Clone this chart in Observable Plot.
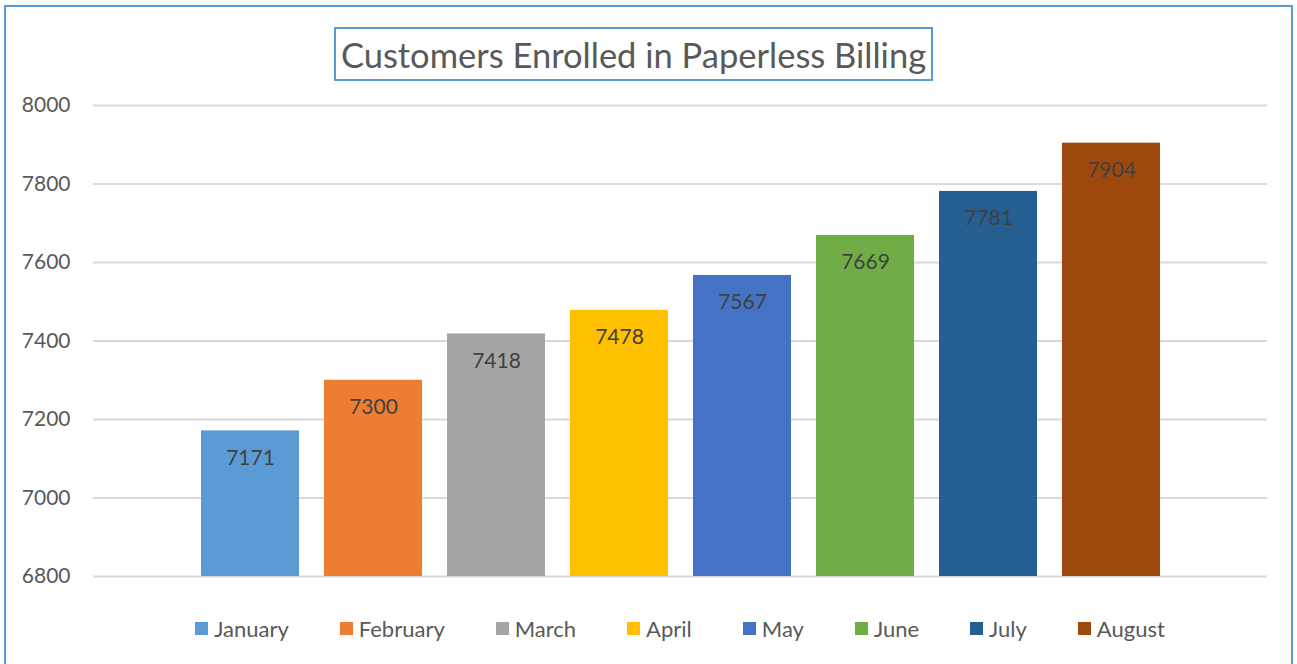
<!DOCTYPE html>
<html>
<head>
<meta charset="utf-8">
<script src="https://cdn.jsdelivr.net/npm/d3@7"></script>
<script src="https://cdn.jsdelivr.net/npm/@observablehq/plot@0.6"></script>
<style>
  html, body { margin: 0; padding: 0; background: #fff; overflow: hidden; }
  #wrap { position: relative; width: 1297px; height: 664px; font-family: Lato, "Open Sans", sans-serif; }
  #frame { position: absolute; left: 4px; top: 5px; width: 1285px; height: 720px; border: 2px solid #5b9bd5; }
  #title { position: absolute; left: 334px; top: 27px; width: 595px; height: 50px; border: 2px solid #5b9bd5;
           display: flex; align-items: center; justify-content: center; color: #595959; font-size: 34.5px; white-space: nowrap; }
  #chart { position: absolute; left: 0; top: 0; }
  #legend { position: absolute; left: 0; top: 612px; width: 1360px; display: flex; justify-content: center; }
  .lg-swatches { font-family: Lato, "Open Sans", sans-serif !important; font-size: 22px !important; color: #595959 !important; margin: 0 !important; }
  .lg-swatch { margin-right: 51px !important; line-height: 26px; }
  .lg-swatch:last-child { margin-right: 0 !important; }
  .lg-swatch > svg { margin-right: 6px !important; }
</style>
</head>
<body>
<div id="wrap">
  <div id="frame"></div>
  <div id="chart"></div>
  <div id="title">Customers Enrolled in Paperless Billing</div>
  <div id="legend"></div>
</div>
<script>
const months = ["January", "February", "March", "April", "May", "June", "July", "August"];
const values = [7171, 7300, 7418, 7478, 7567, 7669, 7781, 7904];
const colors = ["#5b9bd5", "#ed7d31", "#a5a5a5", "#ffc000", "#4472c4", "#70ad47", "#255e91", "#9e480e"];
const yTicks = [6800, 7000, 7200, 7400, 7600, 7800, 8000];
const yMin = 6800, yMax = 8000;

const data = months.map((m, i) => ({month: m, value: values[i]}));

const plot = Plot.plot({
  width: 1297,
  height: 664,
  marginLeft: 93,
  marginRight: 30,
  marginTop: 105,
  marginBottom: 88,
  style: {fontFamily: "Lato, 'Open Sans', sans-serif", color: "#595959", background: "transparent"},
  x: {type: "band", domain: months, paddingInner: 0.206, paddingOuter: 0.86, axis: null},
  y: {domain: [yMin, yMax], axis: null, label: null},
  color: {type: "ordinal", domain: months, range: colors},
  marks: [
    Plot.ruleY(yTicks, {stroke: "#d9d9d9", strokeWidth: 2}),
    Plot.axisY(yTicks, {tickSize: 0, tickPadding: 23, fontSize: 21, fill: "#595959", textAnchor: "end", tickFormat: d => String(d), label: null}),
    Plot.barY(data, {x: "month", y1: yMin, y2: "value", fill: "month"}),
    Plot.text(data, {x: "month", y: "value", text: d => String(d.value), dy: 27, fill: "#404040", fontSize: 21, lineAnchor: "middle"})
  ]
});
document.getElementById("chart").appendChild(plot);

const legend = Plot.legend({
  color: {type: "ordinal", domain: months, range: colors},
  legend: "swatches",
  swatchSize: 13,
  className: "lg"
});
document.getElementById("legend").appendChild(legend);
</script>
</body>
</html>
